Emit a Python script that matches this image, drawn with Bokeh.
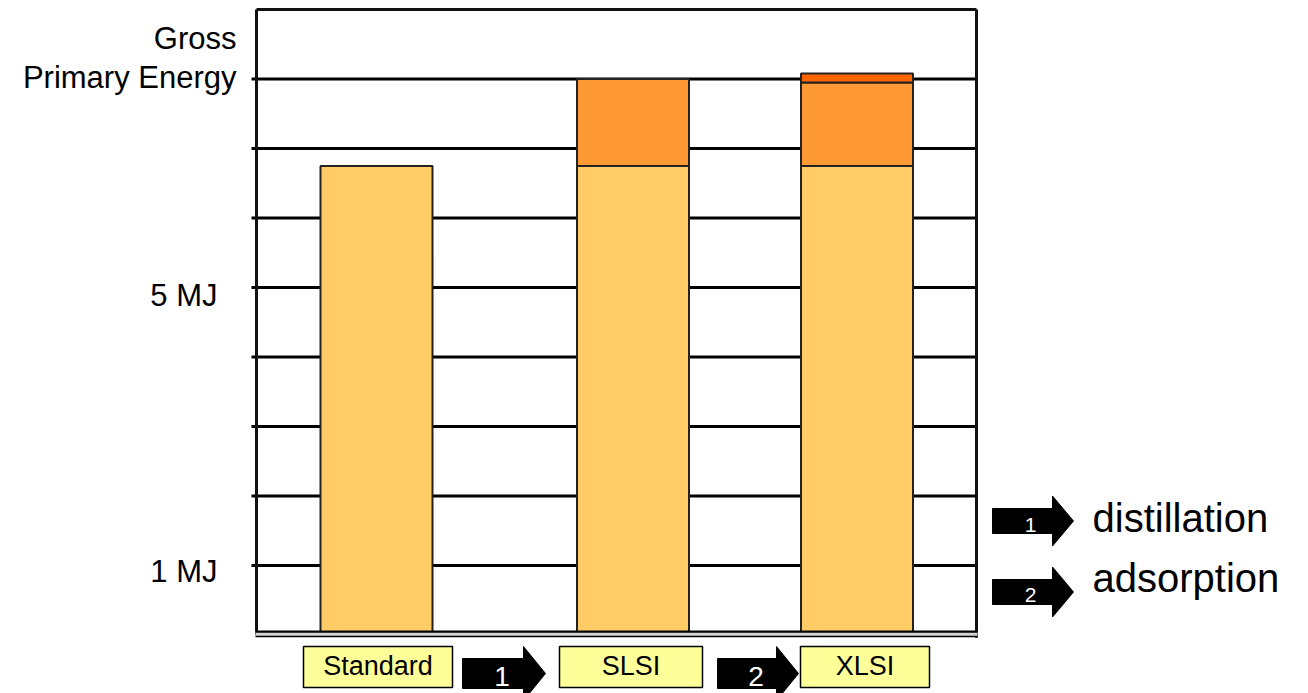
from bokeh.plotting import figure
from bokeh.models import Range1d
from bokeh.core.properties import value
from bokeh.embed import file_html
from bokeh.resources import INLINE

# ---------------- data ----------------
categories = ["Standard", "SLSI", "XLSI"]
base_energy = [6.75, 6.75, 6.75]          # MJ, common base energy
distillation_extra = [0.0, 1.25, 1.20]    # MJ added by step 1
adsorption_extra = [0.0, 0.0, 0.13]       # MJ added by step 2
tick_values = [1, 5, 8]
tick_labels = ["1 MJ", "5 MJ", "Gross\nPrimary Energy"]
grid_values = [1, 2, 3, 4, 5, 6, 7, 8]
y_top = 9
step_numbers = ["1", "2"]
step_names = ["distillation", "adsorption"]

# ---------------- layout (pixels) ----------------
W, H = 1308, 693
PX_PER_MJ = 69.5
ZERO_PX = 634.5
FRAME_L, FRAME_R = 256, 976
TICK_L = 251
bar_x = [376, 632.5, 856.5]
BAR_W = 112
label_box_lr = [(303, 452), (559, 702), (800, 929)]
LABEL_BOX_T, LABEL_BOX_B = 646, 687
LABEL_BASELINE = 676
# step arrows under the axis: (body start, head start, tip)
step_arrow_x = [(462, 523, 545), (717, 776, 798)]
STEP_ARROW_YC, STEP_BODY_H, STEP_HEAD_H = 673, 15, 27
STEP_NUM_BASELINE = 687
# key arrows on the right
KEY_ARROW_X = (992, 1052, 1073)
key_arrow_yc = [520.5, 591.5]
KEY_BODY_H, KEY_HEAD_H = 12.5, 25
KEY_TEXT_X = 1092
key_num_baseline = [532, 602]
key_text_baseline = [533, 593]
tick_label_right = [217, 217, 236]
tick_label_dy = [18, 20, 10]
TICK_LINE_GAP = 39
# the text glyph's alphabetic anchor sits this fraction of an em below the drawn baseline
BASELINE_SHIFT = 0.38

BASE_COLOR = "#FFCC66"
DIST_COLOR = "#FF9933"
ADS_COLOR = "#FF6600"
BOX_COLOR = "#FFFF99"
FONT = "Liberation Sans"


def anchor(baseline, size):
    return baseline - BASELINE_SHIFT * size


p = figure(width=W, height=H,
           x_range=Range1d(0, W),
           y_range=Range1d(-(H - ZERO_PX) / PX_PER_MJ, ZERO_PX / PX_PER_MJ),
           output_backend="svg", toolbar_location=None, min_border=0,
           x_axis_location=None, y_axis_location=None,
           outline_line_color=None, background_fill_color="white",
           border_fill_color="white")
p.extra_y_ranges = {"px": Range1d(H, 0)}
p.grid.visible = False

# horizontal grid lines (with short outside ticks)
p.segment(x0=[TICK_L] * len(grid_values), x1=[FRAME_R] * len(grid_values),
          y0=grid_values, y1=grid_values, line_color="black", line_width=3)

# plot frame: left, top, right
p.multi_line(xs=[[FRAME_L, FRAME_L], [FRAME_L, FRAME_R], [FRAME_R, FRAME_R]],
             ys=[[0, y_top], [y_top, y_top], [y_top, -0.04]],
             line_color="#111111", line_width=3)

# stacked bars
seg_x, seg_bottom, seg_top, seg_color = [], [], [], []
for i in range(len(categories)):
    level = 0.0
    for h, c in ((base_energy[i], BASE_COLOR),
                 (distillation_extra[i], DIST_COLOR),
                 (adsorption_extra[i], ADS_COLOR)):
        if h > 0:
            seg_x.append(bar_x[i])
            seg_bottom.append(level)
            seg_top.append(level + h)
            seg_color.append(c)
            level += h
p.vbar(x=seg_x, width=BAR_W, bottom=seg_bottom, top=seg_top,
       fill_color=seg_color, line_color="#222222", line_width=2)

# double base line
p.quad(left=[FRAME_L - 1], right=[FRAME_R + 1], top=[630.5], bottom=[636.5],
       y_range_name="px", fill_color="#d2d2d2", line_color=None)
p.segment(x0=[FRAME_L - 1, FRAME_L - 1], x1=[FRAME_R + 1, FRAME_R + 1],
          y0=[631.2, 636], y1=[631.2, 636], y_range_name="px",
          line_color="black", line_width=[2.2, 1.4])

# y labels
YL_SIZE = 31
lab_x, lab_y, lab_txt, lab_dy = [], [], [], []
for v, t, xr, dy in zip(tick_values, tick_labels, tick_label_right, tick_label_dy):
    lines = t.split("\n")
    n = len(lines)
    for k, ln in enumerate(lines):
        lab_x.append(xr)
        lab_y.append(v)
        lab_txt.append(ln)
        lab_dy.append(dy - (n - 1 - k) * TICK_LINE_GAP - BASELINE_SHIFT * YL_SIZE)
p.text(x=lab_x, y=lab_y, text=lab_txt, y_offset=lab_dy,
       text_align="right", text_baseline="alphabetic",
       text_font=value(FONT), text_font_size=f"{YL_SIZE}px", text_color="black")

# category boxes
CAT_SIZE = 27
p.quad(left=[l for l, r in label_box_lr], right=[r for l, r in label_box_lr],
       top=[LABEL_BOX_T] * 3, bottom=[LABEL_BOX_B] * 3, y_range_name="px",
       fill_color=BOX_COLOR, line_color="black", line_width=1.5)
p.text(x=[(l + r) / 2 for l, r in label_box_lr],
       y=[anchor(LABEL_BASELINE, CAT_SIZE)] * 3,
       text=categories, y_range_name="px", text_align="center",
       text_baseline="alphabetic", text_font=value(FONT),
       text_font_size=f"{CAT_SIZE}px", text_color="black")


def block_arrow(x0, xh, xt, yc, bh, hh):
    xs = [x0, xh, xh, xt, xh, xh, x0]
    ys = [yc - bh, yc - bh, yc - hh, yc, yc + hh, yc + bh, yc + bh]
    return xs, ys


# block arrows: steps between categories, then the key on the right
axs, ays = [], []
for (x0, xh, xt) in step_arrow_x:
    xs, ys = block_arrow(x0, xh, xt, STEP_ARROW_YC, STEP_BODY_H, STEP_HEAD_H)
    axs.append(xs)
    ays.append(ys)
for yc in key_arrow_yc:
    xs, ys = block_arrow(*KEY_ARROW_X, yc, KEY_BODY_H, KEY_HEAD_H)
    axs.append(xs)
    ays.append(ys)
p.patches(xs=axs, ys=ays, y_range_name="px", fill_color="black",
          line_color="black", line_width=1)

STEP_NUM_SIZE = 28
p.text(x=[(x0 + xh) / 2 + 9 for x0, xh, xt in step_arrow_x],
       y=[anchor(STEP_NUM_BASELINE, STEP_NUM_SIZE)] * len(step_numbers),
       text=step_numbers, y_range_name="px",
       text_align="center", text_baseline="alphabetic",
       text_font=value(FONT), text_font_size=f"{STEP_NUM_SIZE}px",
       text_color="white")

KEY_NUM_SIZE = 21
p.text(x=[(KEY_ARROW_X[0] + KEY_ARROW_X[1]) / 2 + 8] * len(step_numbers),
       y=[anchor(b, KEY_NUM_SIZE) for b in key_num_baseline],
       text=step_numbers, y_range_name="px",
       text_align="center", text_baseline="alphabetic",
       text_font=value(FONT), text_font_size=f"{KEY_NUM_SIZE}px",
       text_color="white")

KEY_SIZE = 40
p.text(x=[KEY_TEXT_X] * len(step_names),
       y=[anchor(b, KEY_SIZE) for b in key_text_baseline], text=step_names,
       y_range_name="px", text_align="left", text_baseline="alphabetic",
       text_font=value(FONT), text_font_size=f"{KEY_SIZE}px", text_color="black")

open("out.html", "w").write(file_html(p, INLINE))
